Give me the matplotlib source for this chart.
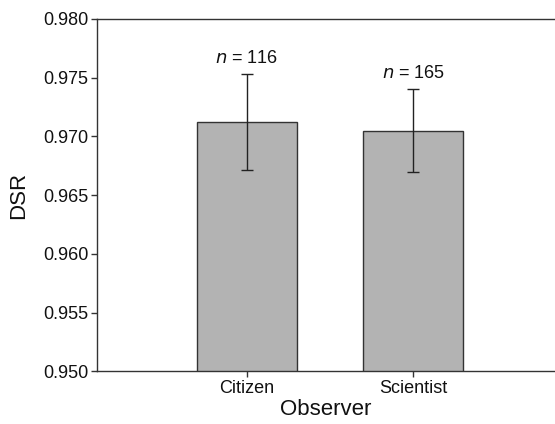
import matplotlib
matplotlib.use("Agg")
import matplotlib.pyplot as plt
import numpy as np

categories = ["Citizen", "Scientist"]
dsr = [0.9712, 0.9705]
err_low = [0.9671, 0.9670]
err_high = [0.9753, 0.9740]
n_labels = ["116", "165"]

plt.rcParams['font.family'] = ['Liberation Sans', 'DejaVu Sans']

fig = plt.figure(figsize=(5.55, 4.24), dpi=100)
ax = fig.add_axes([96.7/555, 1 - 371.3/424, (555 - 96.7)/555, (371.3 - 19)/424])

x = np.arange(len(categories))
yerr = np.array([[d - lo for d, lo in zip(dsr, err_low)],
                 [hi - d for d, hi in zip(dsr, err_high)]])
ax.bar(x, dsr, width=0.6, bottom=0, color='#b3b3b3', edgecolor='#333333', linewidth=1.0, zorder=2)
ax.errorbar(x, dsr, yerr=yerr, fmt='none', ecolor='#222222', elinewidth=1.0, capsize=4, capthick=1.0, zorder=3)

for xi, hi, n in zip(x, err_high, n_labels):
    ax.text(xi, hi + 0.0006, f"$\\it{{n}}$ = {n}", ha='center', va='bottom', fontsize=13, color='#111111')

ticks = [0.950, 0.955, 0.960, 0.965, 0.970, 0.975, 0.980]
ax.set_ylim(0.950, 0.980)
ax.set_xlim(-0.9, 1.85)
ax.set_yticks(ticks)
ax.set_yticklabels([f"{v:.3f}" for v in ticks])
ax.set_xticks(x)
ax.set_xticklabels(categories)
ax.tick_params(axis='both', labelsize=13, length=4, width=1, color='#333333', labelcolor='#111111', direction='out', pad=2)
ax.spines['right'].set_visible(False)
for s in ['left', 'top', 'bottom']:
    ax.spines[s].set_color('#333333')
    ax.spines[s].set_linewidth(1.0)
ax.set_ylabel("DSR", fontsize=16, color='#111111', labelpad=10)
ax.set_xlabel("Observer", fontsize=16, color='#111111', labelpad=2)

fig.savefig("out.png", dpi=100)
